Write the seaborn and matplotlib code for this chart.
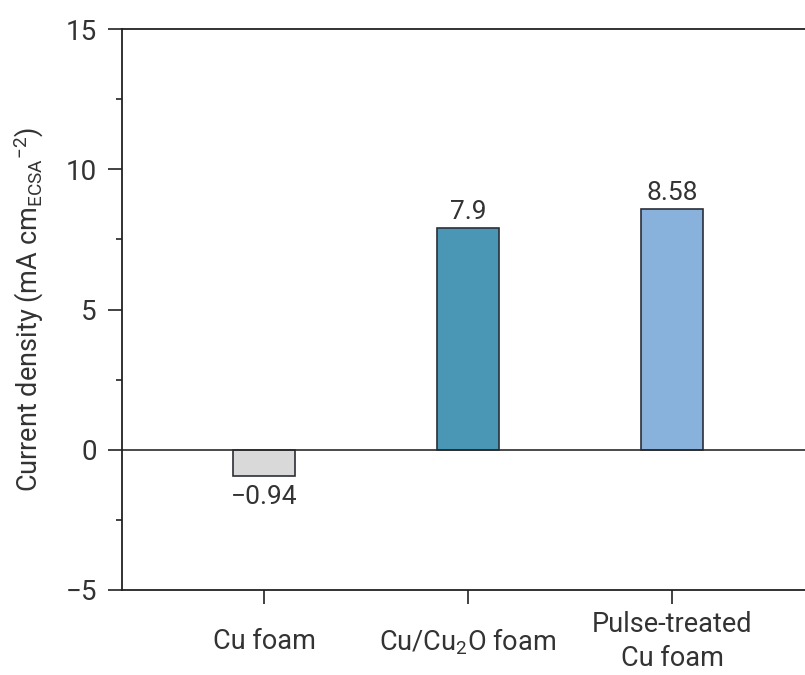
import matplotlib
matplotlib.use("Agg")
import matplotlib.pyplot as plt
import seaborn as sns
from matplotlib.ticker import MultipleLocator

categories = ["Cu foam", "Cu/Cu$_2$O foam", "Pulse-treated\nCu foam"]
values = [-0.94, 7.9, 8.58]
value_labels = ["\u22120.94", "7.9", "8.58"]
colors = ["#d9d9d9", "#4a96b5", "#88b1dc"]
yticks = [-5, 0, 5, 10, 15]
ytick_labels = ["\u22125", "0", "5", "10", "15"]

sns.set_style("white")
plt.rcParams["font.family"] = ["Roboto", "DejaVu Sans"]
plt.rcParams["mathtext.fontset"] = "custom"
plt.rcParams["mathtext.rm"] = "Roboto"
plt.rcParams["mathtext.it"] = "Roboto"

fig = plt.figure(figsize=(8.05, 6.75), dpi=100)
ax = fig.add_axes([122/805, (675-590)/675, (814-122)/805, (590-29)/675])

sns.barplot(x=categories, y=values, hue=categories, palette=colors, width=0.3,
            saturation=1, edgecolor="#2b2f3a", linewidth=1.2, legend=False,
            ax=ax, dodge=False)

ax.axhline(0, color="#2b2b2b", linewidth=1.2, zorder=1)
ax.set_ylim(-5, 15)
ax.set_xlim(-0.696, 2.696)
ax.set_yticks(yticks)
ax.set_yticklabels(ytick_labels)
ax.yaxis.set_minor_locator(MultipleLocator(2.5))

for i, (v, lab) in enumerate(zip(values, value_labels)):
    if v < 0:
        ax.text(i, v - 0.33, lab, ha="center", va="top", fontsize=19, color="#333333")
    else:
        ax.text(i, v + 0.15, lab, ha="center", va="bottom", fontsize=19, color="#333333")

ax.set_ylabel("Current density (mA cm$_{\\mathrm{ECSA}}$$^{-2}$)", fontsize=19.5,
              color="#333333", labelpad=14)
ax.set_xlabel("")

for s in ["left", "bottom", "top", "right"]:
    ax.spines[s].set_visible(True)
    ax.spines[s].set_color("#222222")
    ax.spines[s].set_linewidth(1.3)

ax.tick_params(axis="y", which="major", direction="out", length=10, width=1.2,
               colors="#222222", labelcolor="#333333", labelsize=20, pad=8, left=True)
ax.tick_params(axis="y", which="minor", direction="out", length=4, width=1.2,
               colors="#222222", left=True)
ax.tick_params(axis="x", which="major", direction="out", length=10, width=1.2,
               colors="#222222", labelcolor="#333333", labelsize=19.5, pad=27, bottom=True)
for t in ax.get_xticklabels():
    t.set_va("center")
    t.set_linespacing(1.35)

fig.savefig("out.png", dpi=100)
